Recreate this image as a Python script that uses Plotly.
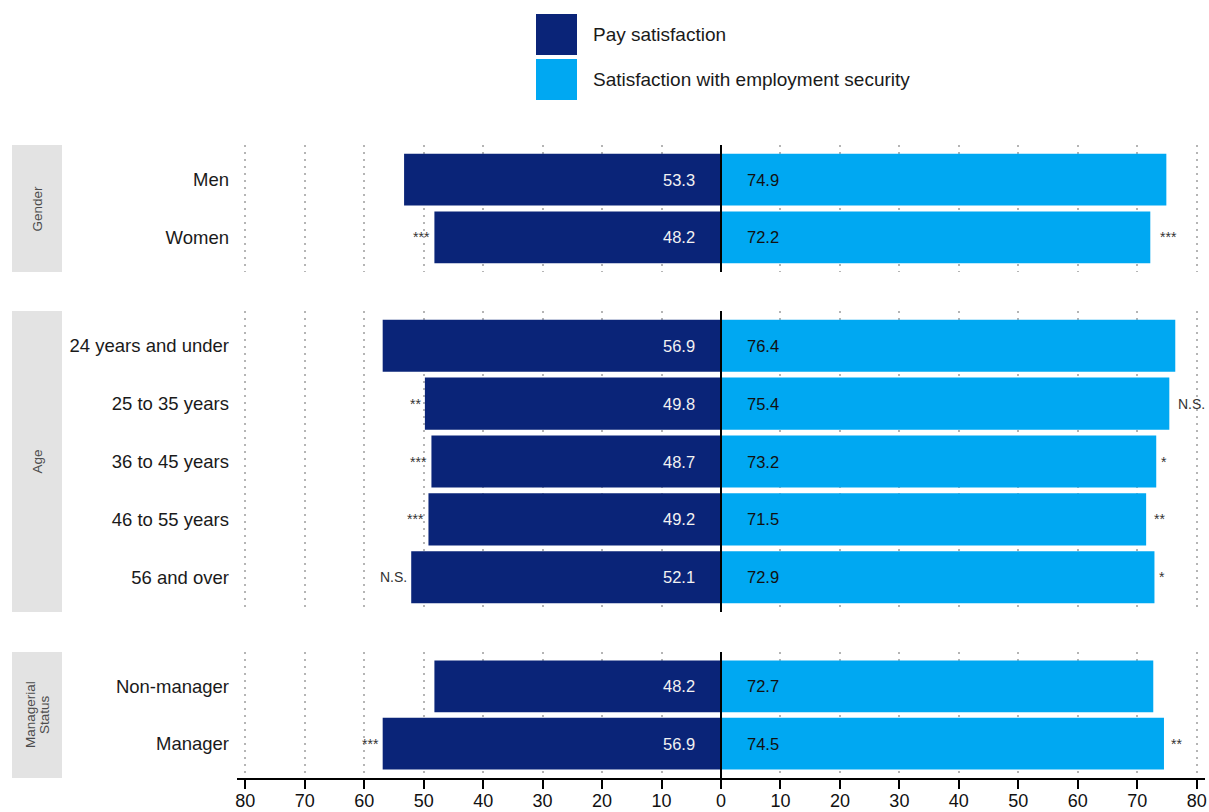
import plotly.graph_objects as go

# ---------------- data ----------------
series_names = ["Pay satisfaction", "Satisfaction with employment security"]
panel_names = ["Gender", "Age", "Managerial<br>Status"]
panel_categories = [
    ["Men", "Women"],
    ["24 years and under", "25 to 35 years", "36 to 45 years", "46 to 55 years", "56 and over"],
    ["Non-manager", "Manager"],
]
pay_values = [
    [53.3, 48.2],
    [56.9, 49.8, 48.7, 49.2, 52.1],
    [48.2, 56.9],
]
security_values = [
    [74.9, 72.2],
    [76.4, 75.4, 73.2, 71.5, 72.9],
    [72.7, 74.5],
]
pay_sig = [
    ["", "***"],
    ["", "**", "***", "***", "N.S."],
    ["", "***"],
]
security_sig = [
    ["", "***"],
    ["", "N.S.", "*", "**", "*"],
    ["", "**"],
]
tick_values = [-80, -70, -60, -50, -40, -30, -20, -10, 0, 10, 20, 30, 40, 50, 60, 70, 80]

# ---------------- style ----------------
DARK = "#0A2478"
LIGHT = "#00A8F2"
FONT = "Liberation Sans"
W, H = 1209, 812
ML, MR, MT, MB = 237, 4, 145, 34
PW, PH = W - ML - MR, H - MT - MB
XR = [-81.4, 81.4]

def px_to_paper_x(px):
    return (px - ML) / PW

def px_to_paper_y(py):
    return (H - MB - py) / PH

def data_to_px_x(v):
    return ML + (v - XR[0]) / (XR[1] - XR[0]) * PW

# panel pixel extents (top, bottom)
panel_px = [(145, 272), (311, 612), (652, 778)]

# approx glyph widths (Arial) in em for label offsets
_cw = {"*": 0.389, "N": 0.722, "S": 0.667, ".": 0.278}
def text_w(s, size):
    return sum(_cw.get(c, 0.556) for c in s) * size

fig = go.Figure()
layout = dict(
    width=W, height=H, autosize=False,
    margin=dict(l=ML, r=MR, t=MT, b=MB, pad=0, autoexpand=False),
    paper_bgcolor="white", plot_bgcolor="white",
    showlegend=False, bargap=0.1, barmode="overlay",
    font=dict(family=FONT, color="#1a1a1a"),
)
shapes = []
annotations = []
SIG_SIZE = 14
STRIP_SIZE = 13.5

for i, (pname, cats, pv, sv, ps, ss) in enumerate(
        zip(panel_names, panel_categories, pay_values, security_values, pay_sig, security_sig)):
    k = "" if i == 0 else str(i + 1)
    xa, ya = "x" + k, "y" + k
    fig.add_trace(go.Bar(
        y=cats, x=[-v for v in pv], orientation="h", marker=dict(color=DARK, line=dict(width=0)),
        width=0.9, xaxis=xa, yaxis=ya, name=series_names[0], hoverinfo="skip"))
    fig.add_trace(go.Bar(
        y=cats, x=sv, orientation="h", marker=dict(color=LIGHT, line=dict(width=0)),
        width=0.9, xaxis=xa, yaxis=ya, name=series_names[1], hoverinfo="skip"))

    top, bot = panel_px[i]
    n = len(cats)
    layout["xaxis" + k] = dict(
        range=XR, domain=[0, 1], anchor=ya, matches=None if i == 0 else "x",
        automargin=False,
        showgrid=True, gridcolor="#b5b5b5", gridwidth=1.5, griddash="2px,5px",
        tickvals=tick_values, ticktext=[str(abs(t)) for t in tick_values],
        zeroline=False,
        showticklabels=(i == 2),
        showline=(i == 2), linecolor="black", linewidth=2,
        ticks="outside" if i == 2 else "", ticklen=9, tickwidth=2, tickcolor="black",
        ticklabelstandoff=-4,
        tickfont=dict(size=18, color="#111", family=FONT),
    )
    layout["yaxis" + k] = dict(
        domain=[px_to_paper_y(bot), px_to_paper_y(top)], anchor=xa,
        automargin=False,
        type="category", categoryorder="array", categoryarray=cats,
        range=[n - 1 + 0.6, -0.6],
        showgrid=False, zeroline=False, showline=False, ticks="",
        ticklabelstandoff=7,
        tickfont=dict(size=18.5, color="#1a1a1a", family=FONT),
    )
    # zero line
    shapes.append(dict(type="line", xref=xa, yref=ya + " domain", x0=0, x1=0, y0=0, y1=1,
                       line=dict(color="black", width=2), layer="above"))
    # strip
    shapes.append(dict(type="rect", xref="paper", yref=ya + " domain",
                       x0=px_to_paper_x(12), x1=px_to_paper_x(62), y0=0, y1=1,
                       fillcolor="#e3e3e3", line=dict(width=0), layer="below"))
    lines = pname.split("<br>")
    for j, line in enumerate(lines):
        annotations.append(dict(xref="paper", yref=ya + " domain", x=px_to_paper_x(37), y=0.5,
                                xanchor="center", yanchor="middle",
                                xshift=(j - (len(lines) - 1) / 2) * 14,
                                text=line, textangle=-90, showarrow=False,
                                font=dict(size=STRIP_SIZE, color="#4d4d4d", family=FONT)))
    for c, p, s, sp, ssec in zip(cats, pv, sv, ps, ss):
        annotations.append(dict(xref=xa, yref=ya, x=-4, y=c, text=f"{p:.1f}", xanchor="right",
                                showarrow=False, font=dict(size=16.5, color="#f2f2f2", family=FONT)))
        annotations.append(dict(xref=xa, yref=ya, x=4, y=c, text=f"{s:.1f}", xanchor="left",
                                showarrow=False, font=dict(size=16.5, color="#111111", family=FONT)))
        if sp:
            annotations.append(dict(xref=xa, yref=ya, x=-p, y=c, text=sp, xanchor="right", xshift=-2,
                                    showarrow=False, font=dict(size=SIG_SIZE, color="#333", family=FONT)))
        if ssec:
            tw = text_w(ssec, SIG_SIZE)
            shift = 0.5 * tw
            # keep the whole mark inside the page
            max_shift = (W - 4) - data_to_px_x(s) - tw - 2
            shift = min(shift, max_shift)
            annotations.append(dict(xref=xa, yref=ya, x=s, y=c, text=ssec, xanchor="left",
                                    xshift=shift,
                                    showarrow=False, font=dict(size=SIG_SIZE, color="#333", family=FONT)))

# manual legend
legend_rows = [(14, 55, DARK), (59, 100, LIGHT)]
for name, (t, b, col) in zip(series_names, legend_rows):
    shapes.append(dict(type="rect", xref="paper", yref="paper",
                       x0=px_to_paper_x(536), x1=px_to_paper_x(577),
                       y0=px_to_paper_y(b), y1=px_to_paper_y(t),
                       fillcolor=col, line=dict(width=0)))
    annotations.append(dict(xref="paper", yref="paper", x=px_to_paper_x(591),
                            y=px_to_paper_y((t + b) / 2), text=name, xanchor="left", yanchor="middle",
                            showarrow=False, font=dict(size=19, color="#1a1a1a", family=FONT)))

layout["shapes"] = shapes
layout["annotations"] = annotations
fig.update_layout(**layout)
fig.write_html(
    "out.html",
    config={"displayModeBar": False},
    post_script="document.body.style.margin='0px';document.body.style.overflow='hidden';"
                "document.documentElement.style.overflow='hidden';",
)
